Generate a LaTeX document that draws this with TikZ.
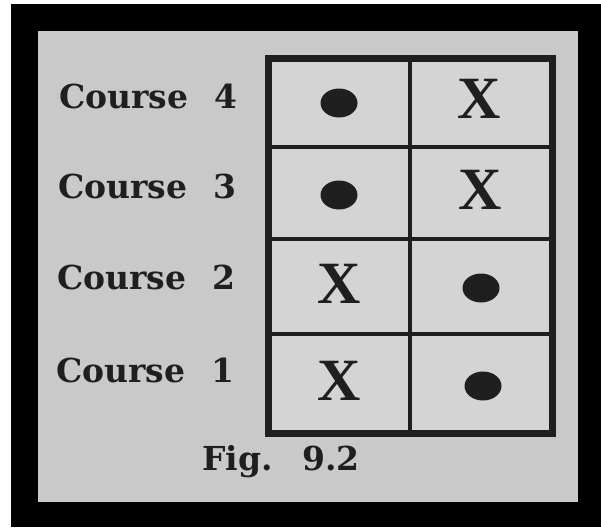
\documentclass[tikz,border=0pt]{standalone}
\usepackage{fontspec}
\setmainfont{DejaVu Serif}
\newfontfamily\crossfont{Liberation Serif}
\usetikzlibrary{shapes.geometric}
\definecolor{paper}{gray}{0.79}
\definecolor{cellpaper}{gray}{0.83}
\definecolor{ink}{gray}{0.12}
\tikzset{
  coursename/.style={font=\fontsize{33}{33}\selectfont\bfseries, text=ink, anchor=base east, inner sep=0pt},
  dotmark/.style={ellipse, fill=ink, minimum width=37pt, minimum height=29pt, inner sep=0pt},
  crossmark/.style={font=\crossfont\fontsize{60}{60}\selectfont\bfseries, text=ink, inner sep=0pt},
  gridline/.style={draw=ink, line width=4pt},
}
\begin{document}
\begin{tikzpicture}[x=1pt,y=-1pt,line join=miter]
  % photo frame
  \fill[white] (0,0) rectangle (601,527);
  \fill[black] (11,4) rectangle (601,527);
  \fill[paper] (38,31) rectangle (578,502);

  % table
  \fill[cellpaper] (268,58) rectangle (552,433);
  \draw[gridline] (268,147) -- (552,147);
  \draw[gridline] (268,239) -- (552,239);
  \draw[gridline] (268,334) -- (552,334);
  \draw[gridline] (410,58) -- (410,433);
  \draw[draw=ink, line width=7pt] (268,58) rectangle (552,433);

  % row labels
  \node[coursename] (c4) at (238,108) {Course\hspace{0.8em}4};
  \node[coursename] (c3) at (237,198) {Course\hspace{0.8em}3};
  \node[coursename] (c2) at (236,289) {Course\hspace{0.8em}2};
  \node[coursename] (c1) at (235,382) {Course\hspace{0.8em}1};

  % marks
  \node[dotmark]   (d4) at (339,103) {};
  \node[crossmark] (x4) at (479,99) {X};
  \node[dotmark]   (d3) at (339,195) {};
  \node[crossmark] (x3) at (480,190) {X};
  \node[crossmark] (x2) at (339,284) {X};
  \node[dotmark]   (d2) at (481,288) {};
  \node[crossmark] (x1) at (339,381) {X};
  \node[dotmark]   (d1) at (483,386) {};

  \node[font=\fontsize{33}{33}\selectfont\bfseries, text=ink, anchor=base, inner sep=0pt] (fig) at (281,470) {Fig.\hspace{0.9em}9.2};
\end{tikzpicture}
\end{document}
